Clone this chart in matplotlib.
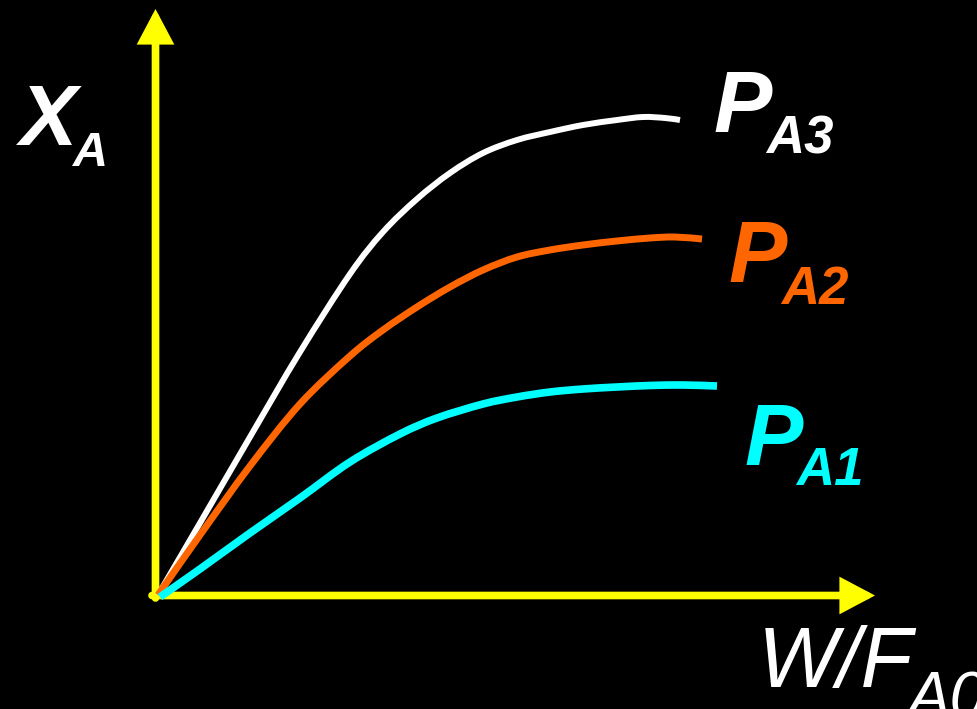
import matplotlib
matplotlib.use("Agg")
import matplotlib.pyplot as plt
from matplotlib.path import Path
from matplotlib.patches import PathPatch

# Conversion X_A versus W/F_A0 at three partial pressures of A
w_p3 = [0.02, 0.44, 0.94, 1.44, 1.94, 2.27, 2.61, 2.94, 3.27, 3.61, 3.94, 4.27, 4.61, 4.87, 5.09, 5.24]
x_p3 = [0.00, 0.72, 1.58, 2.43, 3.21, 3.63, 3.96, 4.22, 4.42, 4.55, 4.63, 4.70, 4.75, 4.78, 4.77, 4.75]

w_p2 = [0.02, 0.44, 0.94, 1.44, 1.94, 2.27, 2.61, 2.94, 3.27, 3.61, 3.94, 4.27, 4.61, 4.94, 5.19, 5.46]
x_p2 = [0.00, 0.60, 1.29, 1.91, 2.39, 2.65, 2.88, 3.08, 3.25, 3.38, 3.45, 3.50, 3.54, 3.57, 3.58, 3.56]

w_p1 = [0.04, 0.44, 0.94, 1.44, 1.94, 2.44, 2.81, 3.27, 3.61, 3.94, 4.27, 4.61, 4.94, 5.27, 5.61]
x_p1 = [-0.02, 0.26, 0.62, 0.97, 1.33, 1.61, 1.77, 1.91, 1.98, 2.03, 2.06, 2.08, 2.095, 2.10, 2.09]

W, H = 978, 709
fig = plt.figure(figsize=(W / 100, H / 100), dpi=100, facecolor="black")
ax = fig.add_axes([0, 0, 1, 1])
ax.set_facecolor("black")
ax.set_xlim(-1.56, 8.22)
ax.set_ylim(-1.14, 5.95)
ax.axis("off")

yellow = "#FFFF00"
arrow_kw = dict(arrowstyle="-|>,head_length=0.85,head_width=0.45",
                color=yellow, lw=5.5, mutation_scale=20,
                shrinkA=0, shrinkB=0, joinstyle="miter")
ax.annotate("", xy=(-0.005, 5.86), xytext=(-0.005, -0.03), arrowprops=arrow_kw, zorder=2)
ax.annotate("", xy=(7.19, -0.005), xytext=(-0.04, -0.005), arrowprops=arrow_kw, zorder=2)


def smooth_curve(xs, ys):
    """Catmull-Rom spline through the points, as cubic Bezier segments."""
    pts = list(zip(xs, ys))
    verts = [pts[0]]
    codes = [Path.MOVETO]
    n = len(pts)
    for i in range(n - 1):
        p0 = pts[i - 1] if i > 0 else pts[i]
        p1 = pts[i]
        p2 = pts[i + 1]
        p3 = pts[i + 2] if i + 2 < n else pts[i + 1]
        c1 = (p1[0] + (p2[0] - p0[0]) / 6, p1[1] + (p2[1] - p0[1]) / 6)
        c2 = (p2[0] - (p3[0] - p1[0]) / 6, p2[1] - (p3[1] - p1[1]) / 6)
        verts += [c1, c2, p2]
        codes += [Path.CURVE4] * 3
    return Path(verts, codes)


for xs, ys, col, lw, z in [(w_p3, x_p3, "white", 4.3, 3),
                           (w_p2, x_p2, "#FF6600", 5.0, 4),
                           (w_p1, x_p1, "#00FFFF", 5.5, 5)]:
    ax.add_patch(PathPatch(smooth_curve(xs, ys), fill=False, edgecolor=col,
                           lw=lw, capstyle="butt", joinstyle="round", zorder=z))


def label(px, py, s, size, color, weight="bold"):
    fig.text(px / W, 1 - py / H, s, fontsize=size, color=color,
             family="Liberation Sans", weight=weight, style="italic",
             ha="left", va="baseline")


# Curve labels
label(713, 132, "P", 63, "white")
label(766, 153, "A3", 38, "white")
label(728, 282, "P", 63, "#FF6600")
label(781, 304, "A2", 38, "#FF6600")
label(744, 465, "P", 63, "#00FFFF")
label(796, 485, "A1", 38, "#00FFFF")

# Axis titles
label(20, 145, "X", 62, "white")
label(73, 166, "A", 35, "white")
label(758, 687, "W/F", 61, "white", weight="normal")
label(907, 718, "A0", 46, "white", weight="normal")

fig.savefig("out.png", dpi=100, facecolor="black")
